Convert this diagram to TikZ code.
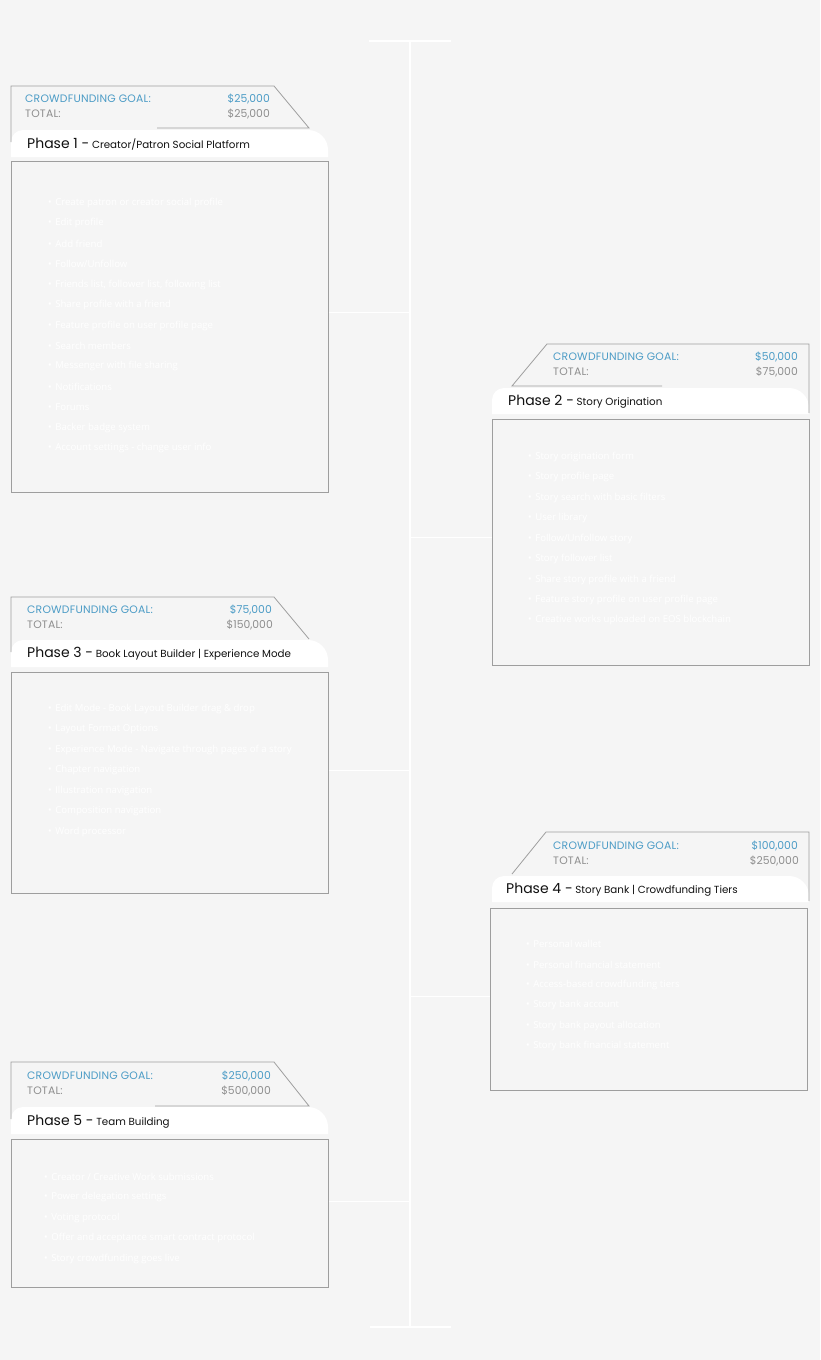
\documentclass[tikz,border=0pt]{standalone}
\usepackage{fontspec}
\setmainfont{Poppins}
\newfontfamily\bulletfont{Open Sans}
\definecolor{bgc}{HTML}{F5F5F5}
\definecolor{edgec}{HTML}{9E9E9E}
\definecolor{goalc}{HTML}{4C9CC6}
\definecolor{totalc}{HTML}{8E8E8E}
\definecolor{titlec}{HTML}{111111}
\definecolor{spinec}{HTML}{FFFFFF}
\tikzset{
  bodybox/.style={draw=edgec, line width=0.9pt, fill=bgc, inner sep=0pt, anchor=north west},
  tabedge/.style={draw=edgec, line width=0.8pt},
  goallbl/.style={font=\fontsize{10.8}{12}\selectfont\addfontfeatures{LetterSpace=2}, text=goalc, inner sep=0pt},
  totallbl/.style={font=\fontsize{10.8}{12}\selectfont\addfontfeatures{LetterSpace=2}, text=totalc, inner sep=0pt},
  goalval/.style={font=\fontsize{10.8}{12}\selectfont, text=goalc, inner sep=0pt},
  totalval/.style={font=\fontsize{10.8}{12}\selectfont, text=totalc, inner sep=0pt},
  phasetitle/.style={text=titlec, inner sep=0pt, anchor=west},
  bulletitem/.style={font=\bulletfont\fontsize{9.6}{11}\selectfont, text=white, inner sep=0pt, anchor=west},
  spineline/.style={draw=spinec, line width=1.1pt},
  linkline/.style={draw=white, line width=0.9pt},
}
\newcommand{\phasehead}[2]{{\fontsize{14}{16}\selectfont #1 -} {\fontsize{10.3}{12}\selectfont #2}}
\begin{document}
\begin{tikzpicture}[x=1pt,y=-1pt]
\fill[bgc] (0,0) rectangle (820,1360);
\useasboundingbox (0,0) rectangle (820,1360);

% spine
\coordinate (spinetop) at (410,42);
\coordinate (spinebot) at (410,1327);
\coordinate (captl) at (369,41);
\coordinate (captr) at (451,41);
\coordinate (capbl) at (370,1327);
\coordinate (capbr) at (451,1327);
\draw[spineline] (captl) -- (captr);
\draw[spineline] (capbl) -- (capbr);
\draw[spineline] (spinetop) -- (spinebot);

% ---------- Phase 1 ----------
\node[bodybox, minimum width=317pt, minimum height=331pt] (body1) at (11,161) {};
\fill[white] (11,157) -- (11,142) arc[start angle=180,end angle=270,radius=12] -- (308,130) arc[start angle=270,end angle=360,radius=20] -- (328,157) -- cycle;
\draw[tabedge] (11,142) -- (11,86) -- (274,86) -- (309,128) -- (157,128);
\node[goallbl, anchor=west] (g1) at (25,99) {CROWDFUNDING GOAL:};
\node[goalval, anchor=east] (gv1) at (270,99) {\$25,000};
\node[totallbl, anchor=west] (tt1) at (25,114) {TOTAL:};
\node[totalval, anchor=east] (tv1) at (270,114) {\$25,000};
\node[phasetitle] (ph1) at (27,144) {\phasehead{Phase 1}{Creator/Patron Social Platform}};
\foreach \t [count=\i] in {Create patron or creator social profile, Edit profile, Add friend, Follow/Unfollow, {Friends list, follower list, following list}, Share profile with a friend, Feature profile on user profile page, Search members, Messenger with file sharing, Notifications, Forums, Backer badge system, Account settings - change user info}
  \node[bulletitem] (p1i\i) at (48,{203+20.42*(\i-1)}) {•\hspace{3.5pt}\t};
\coordinate (s1) at (410,312);
\draw[linkline] (body1.east |- s1) -- (s1);

% ---------- Phase 2 ----------
\node[bodybox, minimum width=317pt, minimum height=246pt] (body2) at (492,419) {};
\fill[white] (492,414) -- (492,400) arc[start angle=180,end angle=270,radius=12] -- (789,388) arc[start angle=270,end angle=360,radius=20] -- (809,414) -- cycle;
\draw[tabedge] (662,386) -- (512,386) -- (547,344) -- (809,344) -- (809,413);
\node[goallbl, anchor=west] (g2) at (553,357) {CROWDFUNDING GOAL:};
\node[goalval, anchor=east] (gv2) at (798,357) {\$50,000};
\node[totallbl, anchor=west] (tt2) at (553,372) {TOTAL:};
\node[totalval, anchor=east] (tv2) at (798,372) {\$75,000};
\node[phasetitle] (ph2) at (508,402) {\phasehead{Phase 2}{Story Origination}};
\foreach \t [count=\i] in {Story origination form, Story profile page, Story search with basic filters, User library, Follow/Unfollow story, Story follower list, Share story profile with a friend, Feature story profile on user profile page, Creative works uploaded on EOS blockchain}
  \node[bulletitem] (p2i\i) at (528,{457+20.42*(\i-1)}) {•\hspace{3.5pt}\t};
\coordinate (s2) at (410,537);
\draw[linkline] (s2) -- (body2.west |- s2);

% ---------- Phase 3 ----------
\node[bodybox, minimum width=317pt, minimum height=221pt] (body3) at (11,672) {};
\fill[white] (11,667) -- (11,652) arc[start angle=180,end angle=270,radius=12] -- (308,640) arc[start angle=270,end angle=360,radius=20] -- (328,667) -- cycle;
\draw[tabedge] (11,652) -- (11,597) -- (274,597) -- (309,639);
\node[goallbl, anchor=west] (g3) at (27,610) {CROWDFUNDING GOAL:};
\node[goalval, anchor=east] (gv3) at (272,610) {\$75,000};
\node[totallbl, anchor=west] (tt3) at (27,625) {TOTAL:};
\node[totalval, anchor=east] (tv3) at (273,625) {\$150,000};
\node[phasetitle] (ph3) at (27,654) {\phasehead{Phase 3}{Book Layout Builder | Experience Mode}};
\foreach \t [count=\i] in {Edit Mode - Book Layout Builder drag \& drop, Layout Format Options, Experience Mode - Navigate through pages of a story, Chapter navigation, Illustration navigation, Composition navigation, Word processor}
  \node[bulletitem] (p3i\i) at (48,{709+20.42*(\i-1)}) {•\hspace{3.5pt}\t};
\coordinate (s3) at (410,770);
\draw[linkline] (body3.east |- s3) -- (s3);

% ---------- Phase 4 ----------
\node[bodybox, minimum width=317pt, minimum height=182pt] (body4) at (490,908) {};
\fill[white] (492,902) -- (492,888) arc[start angle=180,end angle=270,radius=12] -- (789,876) arc[start angle=270,end angle=360,radius=20] -- (809,902) -- cycle;
\draw[tabedge] (512,874) -- (546,832) -- (809,832) -- (809,901);
\node[goallbl, anchor=west] (g4) at (553,846) {CROWDFUNDING GOAL:};
\node[goalval, anchor=east] (gv4) at (798,846) {\$100,000};
\node[totallbl, anchor=west] (tt4) at (553,861) {TOTAL:};
\node[totalval, anchor=east] (tv4) at (799,861) {\$250,000};
\node[phasetitle] (ph4) at (506,890) {\phasehead{Phase 4}{Story Bank | Crowdfunding Tiers}};
\foreach \t [count=\i] in {Personal wallet, Personal financial statement, Access-based crowdfunding tiers, Story bank account, Story bank payout allocation, Story bank financial statement}
  \node[bulletitem] (p4i\i) at (526,{944+20.42*(\i-1)}) {•\hspace{3.5pt}\t};
\coordinate (s4) at (410,996);
\draw[linkline] (s4) -- (body4.west |- s4);

% ---------- Phase 5 ----------
\node[bodybox, minimum width=317pt, minimum height=148pt] (body5) at (11,1139) {};
\fill[white] (11,1134) -- (11,1119) arc[start angle=180,end angle=270,radius=12] -- (308,1107) arc[start angle=270,end angle=360,radius=20] -- (328,1134) -- cycle;
\draw[tabedge] (11,1119) -- (11,1062) -- (274,1062) -- (309,1106) -- (155,1106);
\node[goallbl, anchor=west] (g5) at (27,1076) {CROWDFUNDING GOAL:};
\node[goalval, anchor=east] (gv5) at (271,1076) {\$250,000};
\node[totallbl, anchor=west] (tt5) at (27,1091) {TOTAL:};
\node[totalval, anchor=east] (tv5) at (271,1091) {\$500,000};
\node[phasetitle] (ph5) at (27,1122) {\phasehead{Phase 5}{Team Building}};
\foreach \t [count=\i] in {Creator / Creative Work submissions, Power delegation settings, Voting protocol, Offer and acceptance smart contract protocol, Story crowdfunding goes live}
  \node[bulletitem] (p5i\i) at (44,{1177+20.42*(\i-1)}) {•\hspace{3.5pt}\t};
\coordinate (s5) at (410,1201);
\draw[linkline] (body5.east |- s5) -- (s5);
\end{tikzpicture}
\end{document}
